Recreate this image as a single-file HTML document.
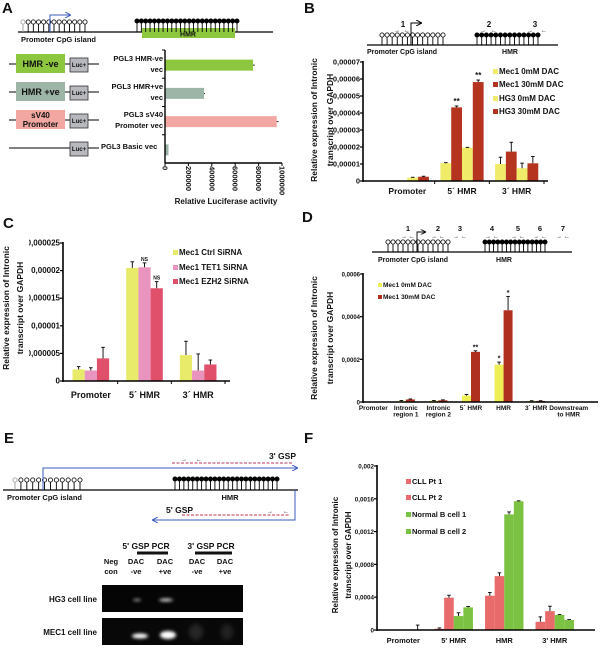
<!DOCTYPE html>
<html><head><meta charset="utf-8">
<style>
html,body{margin:0;padding:0;background:#fff;}
svg{display:block;font-family:"Liberation Sans",Arial,sans-serif;}
text{font-weight:bold;fill:#111;}
</style></head>
<body>
<svg id="fig" xmlns="http://www.w3.org/2000/svg" width="600" height="654" viewBox="0 0 600 654">
<defs>
<filter id="blur" x="-50%" y="-100%" width="200%" height="300%"><feGaussianBlur stdDeviation="1.6"/></filter>
<filter id="blur2" x="-50%" y="-100%" width="200%" height="300%"><feGaussianBlur stdDeviation="2.5"/></filter>
<clipPath id="clipC"><rect x="29" y="230" width="200" height="170"/></clipPath>
<marker id="arrB" markerWidth="6" markerHeight="6" refX="5" refY="3" orient="auto"><path d="M0,0 L6,3 L0,6" fill="none" stroke="#3a5bbf" stroke-width="1"/></marker>
<marker id="arrK" markerWidth="6" markerHeight="6" refX="5" refY="3" orient="auto"><path d="M0,0 L6,3 L0,6" fill="none" stroke="#000" stroke-width="1"/></marker>
</defs>
</svg>
<script>
// ---------- DATA ----------
const aCategories = ['PGL3 HMR-ve vec','PGL3 HMR+ve vec','PGL3 sV40 Promoter vec','PGL3 Basic vec'];
const aValues = [752000, 334000, 955000, 30000];
const aErrors = [15000, 8000, 15000, 0];
const aTicks = [0, 200000, 400000, 600000, 800000, 1000000];

const bCategories = ['Promoter','5´ HMR','3´ HMR'];
const bSeriesNames = ['Mec1 0mM DAC','Mec1 30mM DAC','HG3 0mM DAC','HG3 30mM DAC'];
const bMec1Dac0 = [0, 0.0000105, 0.0000100];
const bMec1Dac30 = [0, 0.0000433, 0.0000173];
const bHg3Dac0 = [0.0000020, 0.0000196, 0.0000075];
const bHg3Dac30 = [0.0000025, 0.0000582, 0.0000104];
const bMec1Dac0Err = [0, 0.0000003, 0.000004];
const bMec1Dac30Err = [0, 0.0000008, 0.0000055];
const bHg3Dac0Err = [0.0000002, 0.0000002, 0.000003];
const bHg3Dac30Err = [0.0000003, 0.0000012, 0.000004];
const bTicks = [0,0.00001,0.00002,0.00003,0.00004,0.00005,0.00006,0.00007];
const bTickLabels = ['0','0,00001','0,00002','0,00003','0,00004','0,00005','0,00006','0,00007'];

const cCategories = ['Promoter','5´ HMR','3´ HMR'];
const cSeriesNames = ['Mec1 Ctrl SiRNA','Mec1 TET1 SiRNA','Mec1 EZH2 SiRNA'];
const cCtrl = [0.0000021, 0.0000205, 0.0000047];
const cTet1 = [0.0000019, 0.0000206, 0.0000019];
const cEzh2 = [0.0000041, 0.0000168, 0.0000030];
const cCtrlErr = [0.0000005, 0.0000011, 0.0000025];
const cTet1Err = [0.0000005, 0.0000008, 0.0000030];
const cEzh2Err = [0.0000020, 0.0000012, 0.0000008];
const cTicks = [0,0.000005,0.00001,0.000015,0.00002,0.000025];
const cTickLabels = ['0','0,000005','0,00001','0,000015','0,00002','0,000025'];

const dCategories = [['Promoter'],['Intronic','region 1'],['Intronic','region 2'],['5´ HMR'],['HMR'],['3´ HMR'],['Downstream','to HMR']];
const dSeriesNames = ['Mec1 0mM DAC','Mec1 30mM DAC'];
const dDac0 = [0, 0.000005, 0.000006, 0.000030, 0.000175, 0.000005, 0];
const dDac30 = [0, 0.000012, 0.000008, 0.000235, 0.000430, 0.000005, 0];
const dDac0Err = [0, 0.000002, 0.000001, 0.000005, 0.000012, 0.000001, 0];
const dDac30Err = [0, 0.000002, 0.000002, 0.000005, 0.000065, 0.000001, 0];
const dTicks = [0,0.0002,0.0004,0.0006];
const dTickLabels = ['0','0,0002','0,0004','0,0006'];

const fCategories = ['Promoter','5\' HMR','HMR','3\' HMR'];
const fSeriesNames = ['CLL Pt 1','CLL Pt 2','Normal B cell 1','Normal B cell 2'];
const fCll1 = [0, 0.000015, 0.000418, 0.000100];
const fCll2 = [0, 0.000394, 0.000657, 0.000230];
const fNormal1 = [0, 0.000170, 0.001410, 0.000183];
const fNormal2 = [0, 0.000276, 0.001570, 0.000122];
const fCll1Err = [0, 0.00001, 0.00004, 0.00006];
const fCll2Err = [0, 0.00003, 0.00004, 0.00006];
const fNormal1Err = [0, 0.00004, 0.00003, 0.000005];
const fNormal2Err = [0.00006, 0.00001, 0.000005, 0.000005];
const fTicks = [0,0.0004,0.0008,0.0012,0.0016,0.002];
const fTickLabels = ['0','0,0004','0,0008','0,0012','0,0016','0,002'];

// ---------- HELPERS ----------
const NS='http://www.w3.org/2000/svg';
const svg=document.getElementById('fig');
function mk(tag,attrs,parent){const e=document.createElementNS(NS,tag);for(const k in attrs)e.setAttribute(k,attrs[k]);(parent||svg).appendChild(e);return e;}
function txt(x,y,s,attrs,parent){const t=mk('text',Object.assign({x:x,y:y},attrs||{}),parent);t.textContent=s;return t;}
function group(name){const g=mk('g',{});return g;}

function lollipops(g,x0,x1,n,lineY,cy,filled,firstGrey){
  for(let i=0;i<n;i++){
    const x=x0+(x1-x0)*i/(n-1);
    const col=(firstGrey&&i===0)?'#999':'#000';
    const s=mk('line',{x1:x,y1:lineY,x2:x,y2:cy+2,stroke:col,'stroke-width':0.9},g);
    
    
    const c=mk('circle',{cx:x,cy:cy,r:2.1,fill:filled?'#000':'#fff',stroke:col,'stroke-width':0.8},g);
    
    
  }
}
function primer(g,x,y,dir){
  const t=txt(x,y,dir>0?'→':'←',{'font-size':6,'text-anchor':'middle'},g);
  
  
}

function barChart(o){
  const g=o.g;
  const yS=v=>o.yb-(v/o.max)*(o.yb-o.yt);
  const band=(o.be-o.bs)/o.categories.length;
  const cx=i=>o.bs+band*(i+0.5);
  o.ticks.forEach((t,i)=>{
    const y=yS(t);
    const tk=mk('line',{x1:o.xl-3,y1:y,x2:o.xl,y2:y,stroke:'#000','stroke-width':1.2},g);
    
    
    const lb=txt(o.xl-3,y+2.5,o.tickLabels[i],{'font-size':o.tfs,'text-anchor':'end'},o.tickParent||g);
    
    
  });
  const ns=o.series.length;
  o.categories.forEach((c,i)=>{
    const c0=cx(i);
    for(let j=0;j<ns;j++){
      const v=o.series[j][i];
      const x=c0-ns*o.bw/2+j*o.bw;
      const y=yS(v);
      const r=mk('rect',{x:x,y:y,width:o.bw,height:o.yb-y,fill:o.colors[j]},g);
      
      
      const e=o.errs[j][i];
      if(e>0){
        const ye=yS(v+e);
        const el=mk('line',{x1:x+o.bw/2,y1:y,x2:x+o.bw/2,y2:ye,stroke:'#000','stroke-width':0.9},g);
        
        
        const ec=mk('line',{x1:x+o.bw/2-1.8,y1:ye,x2:x+o.bw/2+1.8,y2:ye,stroke:'#000','stroke-width':0.9},g);
        
        
      }
    }
    const lines=Array.isArray(c)?c:[c];
    lines.forEach((s,k)=>{
      const cl=txt(c0,o.ly+k*o.lfs,s,{'font-size':o.lfs,'text-anchor':'middle'},g);
      
      
    });
    if(o.catTicks){
      const bt=mk('line',{x1:o.bs+band*(i+1),y1:o.yb,x2:o.bs+band*(i+1),y2:o.yb+3,stroke:'#000','stroke-width':1},g);
      
      
    }
  });
  const ya=mk('line',{x1:o.xl,y1:o.yt-1,x2:o.xl,y2:o.yb+1,stroke:'#000','stroke-width':1.6},g);
  
  
  const xa=mk('line',{x1:o.xl,y1:o.yb,x2:o.xr,y2:o.yb,stroke:'#000','stroke-width':1.6},g);
  
  
  return {yS:yS,cx:cx};
}
function legend(g,x,ys,names,colors,fs,sq){
  names.forEach((n,i)=>{
    const r=mk('rect',{x:x,y:ys[i]-sq,width:sq,height:sq,fill:colors[i]},g);
    
    
    const t=txt(x+sq+1,ys[i],n,{'font-size':fs},g);
    
    
  });
}
function yTitle(g,x1,x2,cy,fs){
  const t1=txt(x1,cy,'Relative expression of Intronic',{'font-size':fs,'text-anchor':'middle',transform:'rotate(-90 '+x1+' '+cy+')'},g);
  
  
  const t2=txt(x2,cy,'transcript over GAPDH',{'font-size':fs,'text-anchor':'middle',transform:'rotate(-90 '+x2+' '+cy+')'},g);
  
  
}
function panelLetter(x,y,s){
  const t=txt(x,y,s,{'font-size':15,'font-weight':'bold'});
  
  
}

// ---------- PANEL A ----------
panelLetter(2,13,'A');
const gA=group('panel-a');
let l=mk('line',{x1:18,y1:32,x2:273,y2:32,stroke:'#000','stroke-width':1.2},gA);


let hb=mk('rect',{x:142,y:28,width:93,height:10,fill:'#8dc63f'},gA);


lollipops(gA,23,85,13,32,22,false,true);
lollipops(gA,137,237,24,32,21,true,false);
let ta=txt(188,36.5,'HMR',{'font-size':7,'text-anchor':'middle'},gA);


let arA=mk('path',{d:'M50 32 V15 H70',fill:'none',stroke:'#3a5bbf','stroke-width':1,'marker-end':'url(#arrB)'},gA);


ta=txt(21,42,'Promoter CpG island',{'font-size':7.5},gA);


const rowsY=[64,92,120,148];
const boxCols=['#8dc63f','#9db5a7','#f2a7a2',null];
const boxTxt=[['HMR -ve'],['HMR +ve'],['sV40','Promoter'],null];
const lab1=['PGL3 HMR-ve','PGL3 HMR+ve','PGL3 sV40','PGL3 Basic vec'];
const lab2=['vec','vec','Promoter vec',''];
rowsY.forEach((y,i)=>{
  const ln=mk('line',{x1:9,y1:y,x2:99,y2:y,stroke:'#000','stroke-width':1},gA);
  
  
  if(boxCols[i]){
    const b=mk('rect',{x:16,y:y-10,width:49,height:19,fill:boxCols[i]},gA);
    
    
    boxTxt[i].forEach((s,k)=>{
      const t=txt(40.5,y+(boxTxt[i].length===1?3:-2+k*9),s,{'font-size':boxTxt[i].length===1?9:8,'text-anchor':'middle',fill:i===2?'#7a1a1a':'#111'},gA);
      
      
    });
  }
  const lb=mk('rect',{x:70,y:y-6,width:18,height:14,fill:'#b8b8bf',stroke:'#333','stroke-width':0.8},gA);
  
  
  const lt=txt(79,y+3,'Luc+',{'font-size':6,'text-anchor':'middle'},gA);
  
  
  const t1=txt(i===3?101:163,y-3+(i===3?4:0),lab1[i],{'font-size':7.5,'text-anchor':i===3?'start':'end'},gA);
  
  
  if(lab2[i]){
    const t2=txt(163,y+8,lab2[i],{'font-size':7.5,'text-anchor':'end'},gA);
    
    
  }
});
(function(){
  const xl=165,xr=282,yt=50,yb=163;
  const xS=v=>xl+(v/1000000)*(xr-xl);
  const band=(yb-yt)/aCategories.length;
  const colors=['#8dc63f','#9db5a7','#f2a7a2','#9db5a7'];
  aValues.forEach((v,i)=>{
    const cy=yt+band*(i+0.5)+1;
    const r=mk('rect',{x:xl,y:cy-5.5,width:xS(v)-xl,height:11,fill:colors[i]},gA);
    
    
    if(aErrors[i]>0){
      const e=mk('line',{x1:xS(v),y1:cy,x2:xS(v+aErrors[i]),y2:cy,stroke:'#000','stroke-width':0.9},gA);
      
      
    }
    const tk=mk('line',{x1:xl-3,y1:yt+band*i,x2:xl,y2:yt+band*i,stroke:'#000','stroke-width':1},gA);
    
    
  });
  aTicks.forEach(t=>{
    const x=xS(t);
    const tk=mk('line',{x1:x,y1:yb,x2:x,y2:yb+3,stroke:'#000','stroke-width':1},gA);
    
    
    const lb=txt(x-2.5,yb+3,String(t),{'font-size':7.5,transform:'rotate(90 '+(x-2.5)+' '+(yb+3)+')'},gA);
    
    
  });
  const ya=mk('line',{x1:xl,y1:yt,x2:xl,y2:yb,stroke:'#000','stroke-width':1.4},gA);
  
  
  const xa=mk('line',{x1:xl,y1:yb,x2:xr,y2:yb,stroke:'#000','stroke-width':1.4},gA);
  
  
  const tt=txt(226,204,'Relative Luciferase activity',{'font-size':8,'text-anchor':'middle'},gA);
  
  
})();

// ---------- PANEL B ----------
panelLetter(304,13,'B');
const gB=group('panel-b');
l=mk('line',{x1:367,y1:45,x2:558,y2:45,stroke:'#000','stroke-width':1.2},gB);


lollipops(gB,382,443,13,45,35,false,false);
lollipops(gB,477,538,14,45,35,true,false);
let arB=mk('path',{d:'M411 45 V23 H421',fill:'none',stroke:'#000','stroke-width':1,'marker-end':'url(#arrK)'},gB);


[[403,'1',397,407],[489,'2',483,494],[535,'3',530,544]].forEach(p=>{
  const t=txt(p[0],27,p[1],{'font-size':8,'text-anchor':'middle'},gB);
  
  
  primer(gB,p[2],32,1);primer(gB,p[3],32,-1);
});
ta=txt(367,54,'Promoter CpG island',{'font-size':7},gB);


ta=txt(510,54,'HMR',{'font-size':7,'text-anchor':'middle'},gB);


const bColors=['#f0ec6a','#b5341f','#f0ec6a','#b5341f'];
const bRes=barChart({g:gB,id:'b',xl:363,xr:548,yb:181,yt:62,max:0.00007,ticks:bTicks,tickLabels:bTickLabels,tfs:7.5,
  bs:380,be:544,categories:bCategories,series:[bMec1Dac0,bMec1Dac30,bHg3Dac0,bHg3Dac30],errs:[bMec1Dac0Err,bMec1Dac30Err,bHg3Dac0Err,bHg3Dac30Err],
  colors:bColors,bw:10.8,ly:194,lfs:8.5,catTicks:true});
[[1,1],[1,3]].forEach(p=>{
  const c=bRes.cx(p[0]);const x=c-2*10.8+p[1]*10.8+5.4;
  const v=[bMec1Dac0,bMec1Dac30,bHg3Dac0,bHg3Dac30][p[1]][p[0]]+[bMec1Dac0Err,bMec1Dac30Err,bHg3Dac0Err,bHg3Dac30Err][p[1]][p[0]];
  const t=txt(x,bRes.yS(v)-2,'**',{'font-size':8,'text-anchor':'middle'},gB);
  
  
});
legend(gB,493,[74,87,101,114],bSeriesNames,bColors,8,5);
yTitle(gB,317,333,120,8.5);

// ---------- PANEL C ----------
panelLetter(3,228,'C');
const gC=group('panel-c');
const gCt=mk('g',{'clip-path':'url(#clipC)'},gC);


const cColors=['#e8ea6a','#e994be','#e0506a'];
const cRes=barChart({g:gC,id:'c',xl:63,xr:230,yb:381,yt:243,max:0.000025,ticks:cTicks,tickLabels:cTickLabels,tfs:8,tickParent:gCt,
  bs:64,be:225,categories:cCategories,series:[cCtrl,cTet1,cEzh2],errs:[cCtrlErr,cTet1Err,cEzh2Err],
  colors:cColors,bw:12.2,ly:398,lfs:9,catTicks:true});
[1,2].forEach(j=>{
  const c=cRes.cx(1);const x=c-1.5*12.2+j*12.2+6.1;
  const v=[cCtrl,cTet1,cEzh2][j][1]+[cCtrlErr,cTet1Err,cEzh2Err][j][1];
  const t=txt(x,cRes.yS(v)-2,'NS',{'font-size':5,'text-anchor':'middle'},gC);
  
  
});
legend(gC,173,[255,270,284],cSeriesNames,cColors,8,5);
yTitle(gC,9,23,308,8.5);

// ---------- PANEL D ----------
panelLetter(302,222,'D');
const gD=group('panel-d');
l=mk('line',{x1:372,y1:252,x2:572,y2:252,stroke:'#000','stroke-width':1.2},gD);


lollipops(gD,388,448,13,252,242,false,false);
lollipops(gD,485,545,15,252,242,true,false);
let arD=mk('path',{d:'M417 252 V232 H425',fill:'none',stroke:'#000','stroke-width':0.9,'marker-end':'url(#arrK)'},gD);


[[408,'1'],[438,'2'],[460,'3'],[492,'4'],[518,'5'],[540,'6'],[563,'7']].forEach(p=>{
  const t=txt(p[0],231,p[1],{'font-size':7.5,'text-anchor':'middle'},gD);
  
  
  primer(gD,p[0]-4,238,1);primer(gD,p[0]+4,238,-1);
});
ta=txt(378,262,'Promoter CpG island',{'font-size':7},gD);


ta=txt(504,262,'HMR',{'font-size':7,'text-anchor':'middle'},gD);


const dColors=['#eeee55','#b03020'];
const dRes=barChart({g:gD,id:'d',xl:363,xr:598,yb:402,yt:274,max:0.0006,ticks:dTicks,tickLabels:dTickLabels,tfs:6,
  bs:357,be:585,categories:dCategories,series:[dDac0,dDac30],errs:[dDac0Err,dDac30Err],
  colors:dColors,bw:9,ly:410,lfs:6.5,catTicks:false});
[[3,1,'**'],[4,1,'*'],[4,0,'*']].forEach(p=>{
  const c=dRes.cx(p[0]);const x=c-9+p[1]*9+4.5;
  const v=[dDac0,dDac30][p[1]][p[0]]+[dDac0Err,dDac30Err][p[1]][p[0]];
  const t=txt(x,dRes.yS(v)-1.5,p[2],{'font-size':7,'text-anchor':'middle'},gD);
  
  
});
legend(gD,378,[287,299],dSeriesNames,dColors,6.5,4);
yTitle(gD,317,333,338,8.5);

// ---------- PANEL E ----------
panelLetter(4,443,'E');
const gE=group('panel-e');
l=mk('line',{x1:3,y1:490,x2:298,y2:490,stroke:'#000','stroke-width':1.2},gE);


lollipops(gE,15,80,12,490,480,false,true);
lollipops(gE,175,277,24,490,479,true,false);
let bl=mk('path',{d:'M43 490 V468 H297',fill:'none',stroke:'#3a5bbf','stroke-width':1,'marker-end':'url(#arrB)'},gE);


bl=mk('path',{d:'M295 490 V520 H153',fill:'none',stroke:'#3a5bbf','stroke-width':1,'marker-end':'url(#arrB)'},gE);


let rd=mk('line',{x1:172,y1:463,x2:292,y2:463,stroke:'#c0305a','stroke-width':1,'stroke-dasharray':'3,1.5'},gE);


rd=mk('line',{x1:182,y1:515,x2:290,y2:515,stroke:'#c0305a','stroke-width':1,'stroke-dasharray':'3,1.5'},gE);


primer(gE,184,461,1);primer(gE,199,461,-1);
primer(gE,270,513,1);primer(gE,286,513,-1);
ta=txt(296,459,'3\' GSP',{'font-size':8.5,'text-anchor':'end'},gE);


ta=txt(166,513,'5\' GSP',{'font-size':8.5},gE);


ta=txt(7,500,'Promoter CpG island',{'font-size':7.5},gE);


ta=txt(230,500,'HMR',{'font-size':7.5,'text-anchor':'middle'},gE);


ta=txt(146,549,'5\' GSP PCR',{'font-size':8.5,'text-anchor':'middle'},gE);


ta=txt(211,549,'3\' GSP PCR',{'font-size':8.5,'text-anchor':'middle'},gE);


let ub=mk('rect',{x:137,y:551.5,width:31,height:3,fill:'#111'},gE);


ub=mk('rect',{x:195,y:551.5,width:37,height:3,fill:'#111'},gE);


[[111,'Neg','con'],[136,'DAC','-ve'],[165,'DAC','+ve'],[197,'DAC','-ve'],[225,'DAC','+ve']].forEach(c=>{
  const a=txt(c[0],564,c[1],{'font-size':7.5,'text-anchor':'middle'},gE);
  
  
  const b=txt(c[0],574,c[2],{'font-size':7.5,'text-anchor':'middle'},gE);
  
  
});
let gel=mk('rect',{x:102,y:585,width:141,height:27,fill:'#050505'},gE);


gel=mk('rect',{x:102,y:618,width:141,height:27,fill:'#080808'},gE);


[[137,600,4,1.2,0.6,'blur'],[166,600,7,1.5,0.85,'blur'],[140,636,8,2.5,1,'blur'],[168,635,8,4,1,'blur'],
 [196,632,7,8,0.12,'blur2'],[227,632,6,8,0.1,'blur2']].forEach(b=>{
  const e=mk('ellipse',{cx:b[0],cy:b[1],rx:b[2],ry:b[3],fill:'#fff',opacity:b[4],filter:'url(#'+b[5]+')'},gE);
  
  
});
ta=txt(97,602,'HG3 cell line',{'font-size':8,'text-anchor':'end'},gE);


ta=txt(97,635,'MEC1 cell line',{'font-size':8,'text-anchor':'end'},gE);



// ---------- PANEL F ----------
panelLetter(304,443,'F');
const gF=group('panel-f');
const fColors=['#e86a6a','#e86a6a','#7cc242','#7cc242'];
barChart({g:gF,id:'f',xl:377,xr:595,yb:630,yt:466,max:0.002,ticks:fTicks,tickLabels:fTickLabels,tfs:6.3,
  bs:378,be:580,categories:fCategories,series:[fCll1,fCll2,fNormal1,fNormal2],errs:[fCll1Err,fCll2Err,fNormal1Err,fNormal2Err],
  colors:fColors,bw:9.6,ly:643,lfs:7.5,catTicks:false});
legend(gF,406,[484,500,517,534],fSeriesNames,fColors,7.5,5);
yTitle(gF,338,351,555,8);
</script>
</body></html>
